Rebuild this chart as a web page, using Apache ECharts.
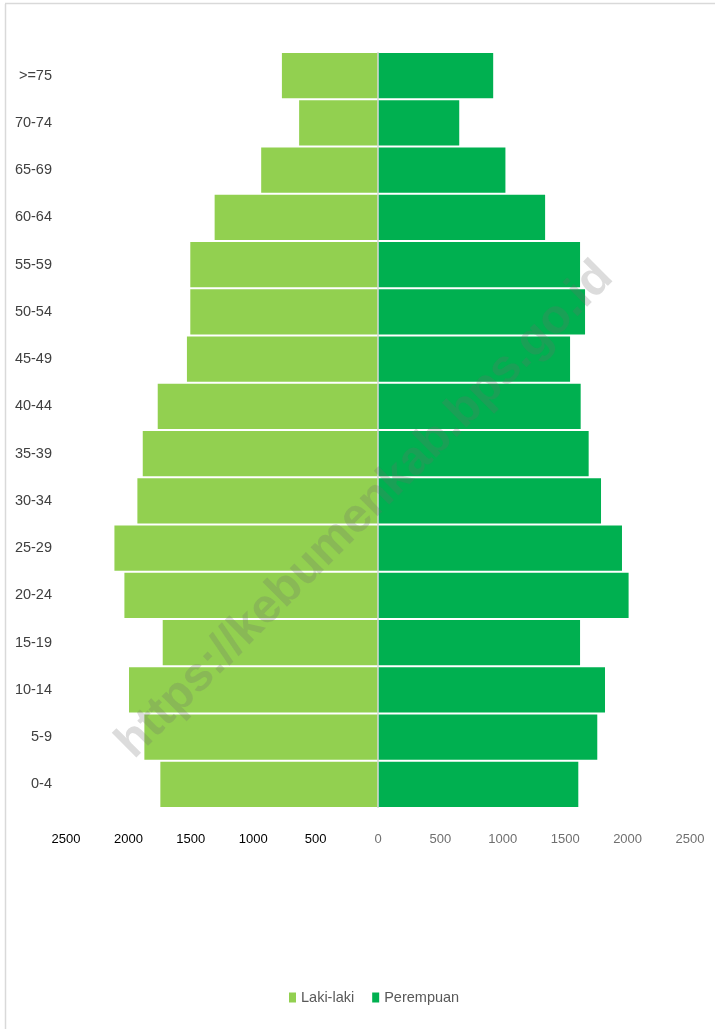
<!DOCTYPE html>
<html>
<head>
<meta charset="utf-8">
<script src="https://cdn.jsdelivr.net/npm/echarts@6/dist/echarts.min.js"></script>
<style>
html,body{margin:0;padding:0;background:#fff;}
#chart{width:715px;height:1029px;}
</style>
</head>
<body>
<div id="chart"></div>
<script>
var categories = ['0-4','5-9','10-14','15-19','20-24','25-29','30-34','35-39','40-44','45-49','50-54','55-59','60-64','65-69','70-74','>=75'];
var lakiLaki = [1744, 1872, 1995, 1725, 2032, 2112, 1928, 1885, 1765, 1531, 1504, 1504, 1309, 936, 632, 770];
var perempuan = [1605, 1757, 1819, 1619, 2008, 1955, 1787, 1688, 1624, 1539, 1659, 1619, 1339, 1021, 651, 923];
var seriesNames = ['Laki-laki', 'Perempuan'];
var xTicks = { min: -2500, max: 2500, interval: 500 };

var FONT = '"Liberation Sans", Arial, sans-serif';
var chart = echarts.init(document.getElementById('chart'));
chart.setOption({
  animation: false,
  backgroundColor: '#ffffff',
  grid: { left: 66, right: 25, top: 52, bottom: 221, containLabel: false },
  legend: {
    data: seriesNames,
    top: 985,
    left: 284,
    icon: 'rect',
    itemWidth: 7,
    itemHeight: 10,
    itemGap: 18,
    textStyle: { fontFamily: FONT, fontSize: 14.5, color: '#595959' }
  },
  xAxis: {
    type: 'value',
    min: xTicks.min,
    max: xTicks.max,
    interval: xTicks.interval,
    axisLine: { show: false },
    axisTick: { show: false },
    splitLine: { show: false },
    axisLabel: {
      fontFamily: FONT,
      fontSize: 13,
      margin: 25,
      color: function (v) { return v < 0 ? '#000000' : '#6f6f6f'; },
      formatter: function (v) { return Math.abs(v); }
    }
  },
  yAxis: {
    type: 'category',
    data: categories,
    position: 'left',
    axisLine: { show: false },
    axisTick: { show: false },
    axisLabel: { fontFamily: FONT, fontSize: 14.5, color: '#404040', margin: 14 }
  },
  series: [
    {
      name: seriesNames[0],
      type: 'bar',
      data: lakiLaki.map(function (v) { return -v; }),
      barGap: '-100%',
      barCategoryGap: '4%',
      itemStyle: { color: '#92D050' },
      markLine: {
        silent: true,
        symbol: 'none',
        label: { show: false },
        lineStyle: { color: '#d9d9d9', width: 1.5, type: 'solid' },
        data: [{ xAxis: 0 }]
      }
    },
    {
      name: seriesNames[1],
      type: 'bar',
      data: perempuan,
      barGap: '-100%',
      barCategoryGap: '4%',
      itemStyle: { color: '#00B050' }
    }
  ],
  graphic: [
    { type: 'line', shape: { x1: 5.5, y1: 4, x2: 5.5, y2: 1029 }, style: { stroke: '#d9d9d9', lineWidth: 1.5 }, silent: true },
    { type: 'line', shape: { x1: 5, y1: 3.5, x2: 715, y2: 3.5 }, style: { stroke: '#d9d9d9', lineWidth: 1.5 }, silent: true },
    {
      type: 'text',
      x: 365, y: 510,
      rotation: Math.PI / 4,
      silent: true,
      z: 100,
      style: {
        text: 'https://kebumenkab.bps.go.id',
        x: 0, y: 0,
        align: 'center',
        verticalAlign: 'middle',
        font: 'bold 48px "Liberation Sans", Arial, sans-serif',
        fill: 'rgba(110,110,110,0.24)'
      }
    }
  ]
});
</script>
</body>
</html>
